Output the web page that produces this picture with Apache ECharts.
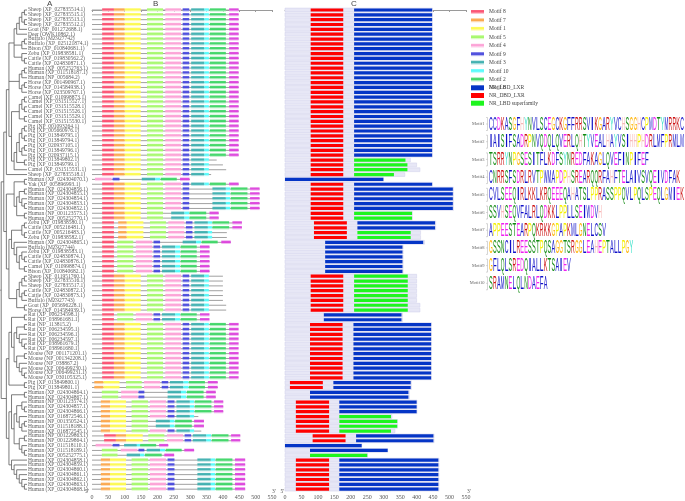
<!DOCTYPE html>
<html>
<head>
<meta charset="utf-8">
<script src="https://cdn.jsdelivr.net/npm/echarts@6/dist/echarts.min.js"></script>
<style>
html,body{margin:0;padding:0;background:#fff;}
#chart{width:685px;height:501px;}
</style>
</head>
<body>
<div id="chart"></div>
<script>
// ---------------- DATA ----------------
const labels = [
'Sheep (XP_027835514.1)','Sheep (XP_027835515.1)','Sheep (XP_027835513.1)','Sheep (XP_027835512.1)','Goat (NP_001272688.1)',
'Deer (OWK10862.1)','Buffalo (MZ927742)','Buffalo (XP_025121874.1)','Bison (XP_010840681.1)','Zebu (XP_019838581.1)',
'Cattle (XP_019830562.2)','Cattle (XP_024830871.1)','Human (XP_005252763.1)','Human (XP_011518187.1)','Human (NP_005684.2)',
'Horse (XP_001490967.1)','Horse (XP_014584938.1)','Horse (XP_023509767.1)','Camel (XP_010998873.1)','Camel (XP_031515527.1)',
'Camel (XP_031515528.1)','Camel (XP_031515526.1)','Camel (XP_031515529.1)','Camel (XP_031515530.1)','Pig (NP_001093264.1)',
'Pig (XP_005660976.1)','Pig (XP_013849795.1)','Pig (XP_013849794.1)','Pig (XP_020937105.1)','Pig (XP_013849796.1)',
'Pig (XP_020937115.1)','Pig (XP_013849802.1)','Pig (XP_013849799.1)','Camel (XP_031515531.1)','Sheep (XP_027835518.1)',
'Human (XP_024304070.1)','Yak (XP_005896993.1)','Human (XP_024304856.1)','Human (XP_024304855.1)','Human (XP_024304854.1)',
'Human (XP_024304853.1)','Human (XP_024304852.1)','Human (NP_001123573.1)','Human (XP_005252770.1)','Zebu (XP_019838580.1)',
'Cattle (XP_005216481.1)','Cattle (XP_005216483.1)','Zebu (XP_019838582.1)','Human (XP_024304865.1)','Buffalo (MZ927744)',
'Zebu (XP_019838583.1)','Cattle (XP_024830874.1)','Cattle (XP_024830876.1)','Camel (XP_010998874.1)','Bison (XP_010840682.1)',
'Sheep (XP_011951760.1)','Sheep (XP_027835516.1)','Sheep (XP_027835517.1)','Cattle (XP_024830872.1)','Cattle (XP_024830873.1)',
'Buffalo (MZ927743)','Goat (XP_005696228.1)','Horse (XP_014584939.1)','Rat (XP_006234598.1)','Rat (XP_038961681.1)',
'Rat (NP_113815.2)','Rat (XP_006234595.1)','Rat (XP_006234596.1)','Rat (XP_006234597.1)','Rat (XP_038961679.1)',
'Rat (XP_038961680.1)','Mouse (NP_001171201.1)','Mouse (NP_001342208.1)','Mouse (NP_038867.2)','Mouse (XP_006499230.1)',
'Mouse (XP_006499231.1)','Mouse (XP_030105325.1)','Pig (XP_013849800.1)','Pig (XP_013849801.1)','Human (XP_024304864.1)',
'Human (XP_024304867.1)','Human (NP_001123574.1)','Human (XP_024304857.1)','Human (XP_024304866.1)','Human (XP_016872546.1)',
'Human (NP_001350524.1)','Human (XP_011518188.1)','Human (XP_016872545.1)','Human (NP_001229863.1)','Human (NP_001229864.1)',
'Human (XP_011518110.1)','Human (XP_011518189.1)','Human (XP_005252775.1)','Human (XP_024304858.1)','Human (XP_024304859.1)',
'Human (XP_024304860.1)','Human (XP_024304861.1)','Human (XP_024304862.1)','Human (XP_024304863.1)','Human (XP_024304868.1)'
];

// protein length (aa) per row
const seqLength = [
448,448,448,448,448,448,448,448,448,448,
448,448,448,448,448,448,448,448,448,448,
448,448,448,448,448,448,448,448,448,448,
448,381,400,410,364,299,448,512,512,512,
512,512,387,387,458,458,412,412,424,359,
359,359,359,359,359,400,400,400,400,400,
400,410,410,357,357,445,445,445,445,445,
445,445,445,445,445,445,445,384,384,378,
378,401,401,401,325,342,342,334,453,453,
233,312,251,468,468,468,468,468,468,468
];

// motif legend order and colours
const motifNames = ['Motif 8','Motif 7','Motif 1','Motif 5','Motif 4','Motif 9','Motif 3','Motif 10','Motif 2','Motif 6'];
const motifIds   = [8,7,1,5,4,9,3,10,2,6];
const motifColors = ['#fb5272','#fba84e','#fdf950','#a6f86c','#fca2d6','#4a4adc','#40b0b0','#55fbfb','#40d668','#dc45dc'];

// motif architectures: [motif id, start aa, end aa]
const archFull   = [[8,31,67],[7,67,100],[1,100,149],[5,168,217],[4,224,272],[9,277,297],[3,303,343],[10,343,357],[2,360,409],[6,419,448]];
const archTrunc  = [[8,31,67],[7,67,100],[1,100,149],[5,168,217],[4,224,272],[9,277,297],[3,303,343],[10,343,357]];
const archNterm4 = [[4,9,60],[9,63,84],[3,152,193],[10,193,208],[2,210,259],[6,269,298]];
const archInsert = [[8,31,67],[7,67,100],[1,100,149],[5,168,217],[4,224,272],[9,277,297],[3,368,409],[10,409,422],[2,424,475],[6,483,512]];
const archDel60  = [[8,31,67],[7,67,100],[1,100,149],[5,168,217],[3,242,282],[10,282,297],[2,298,349],[6,359,387]];
const archShift  = [[8,31,67],[7,80,106],[1,106,157],[5,177,226],[4,233,282],[9,287,307],[3,313,354],[10,354,367],[2,368,419],[6,429,458]];
const archShiftT = [[8,31,67],[7,80,106],[1,106,157],[5,177,226],[4,233,282],[9,287,307],[3,313,354],[10,354,367]];
const archNo71a  = [[8,31,67],[5,77,126],[4,134,184],[9,188,208],[3,277,318],[10,318,333],[2,335,384],[6,395,424]];
const archNo71b  = [[8,31,67],[5,77,126],[4,134,184],[9,188,208],[3,214,254],[10,254,269],[2,271,320],[6,330,359]];
const archPigB   = [[7,7,35],[1,35,84],[5,104,152],[4,159,208],[9,213,233],[3,238,279],[10,279,295],[2,296,345],[6,354,384]];
const archHum5   = [[5,30,80],[4,89,140],[9,142,160],[3,231,272],[10,272,288],[2,290,341],[6,349,378]];
const archHum7   = [[7,27,55],[1,55,104],[5,121,171],[4,177,226],[9,231,252],[3,258,299],[10,299,312],[2,314,365],[6,373,401]];
const archHum7T  = [[7,27,55],[1,55,104],[5,121,171],[4,177,226],[9,231,252],[3,258,299],[10,299,312]];
const archHum7D  = [[7,27,55],[1,55,104],[5,121,171],[3,195,238],[10,238,252],[2,254,305],[6,312,342]];
const archHum8   = [[8,37,73],[7,73,104],[1,104,155],[5,172,221],[4,229,278],[9,283,303],[3,308,349],[10,349,364],[2,366,417],[6,425,453]];
const archHum4   = [[4,11,60],[9,63,84],[3,98,137],[10,137,147],[2,147,196],[6,205,233]];
const archHum5b  = [[5,30,78],[4,88,139],[9,142,160],[3,167,208],[10,208,223],[2,225,274],[6,282,312]];
const archHum5c  = [[5,30,78],[3,106,147],[10,147,160],[2,162,213],[6,221,251]];
const archHum7L  = [[7,27,55],[1,55,104],[5,121,171],[4,177,226],[9,231,252],[3,322,363],[10,363,376],[2,378,429],[6,437,468]];
const motifArchs = [archFull,archTrunc,archNterm4,archInsert,archDel60,archShift,archShiftT,archNo71a,archNo71b,
                    archPigB,archHum5,archHum7,archHum7T,archHum7D,archHum8,archHum4,archHum5b,archHum5c,archHum7L];
const rowMotifArch = [
0,0,0,0,0,0,0,0,0,0,
0,0,0,0,0,0,0,0,0,0,
0,0,0,0,0,0,0,0,0,0,
0,1,1,1,1,2,0,3,3,3,
3,3,4,4,5,5,6,6,7,8,
8,8,8,8,8,1,1,1,1,1,
1,1,1,8,8,0,0,0,0,0,
0,0,0,0,0,0,0,9,9,10,
10,11,11,11,12,13,13,12,14,14,
15,16,17,18,18,18,18,18,18,18
];

// domains: [type, start, end]; type 0 NR_LBD_LXR, 1 NR_DBD_LXR, 2 NR_LBD superfamily
const domainNames  = ['NR_LBD_LXR','NR_DBD_LXR','NR_LBD superfamily'];
const domainColors = ['#0535c6','#ff0000','#1ef51e'];
const domainArchs = [
 [[1,78,177],[0,210,447]], [[1,78,177],[2,210,366]], [[1,78,177],[2,210,372]], [[1,78,177],[2,210,331]],
 [[0,0,299]], [[1,78,177],[0,210,510]], [[1,78,177],[2,210,386]], [[1,88,188],[0,220,456]],
 [[1,88,188],[2,220,382]], [[0,122,420]], [[0,122,357]], [[1,78,177],[2,210,373]],
 [[0,118,354]], [[1,76,175],[0,208,444]], [[1,15,115],[0,147,382]], [[0,76,375]],
 [[1,33,134],[0,165,400]], [[1,33,134],[2,165,322]], [[1,33,134],[2,165,341]], [[1,84,184],[0,216,451]],
 [[0,0,233]], [[0,76,312]], [[2,76,250]], [[1,33,134],[0,165,466]]
];
const rowDomainArch = [
0,0,0,0,0,0,0,0,0,0,
0,0,0,0,0,0,0,0,0,0,
0,0,0,0,0,0,0,0,0,0,
0,1,2,2,3,4,0,5,5,5,
5,5,6,6,7,7,8,8,9,10,
10,10,10,10,10,11,11,11,11,11,
11,11,11,12,12,13,13,13,13,13,
13,13,13,13,13,13,13,14,14,15,
15,16,16,16,17,18,18,17,19,19,
20,21,22,23,23,23,23,23,23,23
];

// tree topology (leaf = row index)
const cladeRum      = [[[[[0,1],[2,3]],4],5],[[6,7],8],[9,[10,11]]];
const cladeHumHorse = [[[12,13],14],[[15,16],17]];
const cladeCamelPig = [[[[18,19],[20,21]],[22,23]],[[[[[24,25],[26,27]],[[28,29],30]],[31,32]],33]];
const cladeMixA     = [[35,36],[[[37,38],[39,[40,41]]],[42,43]]];
const cladeMixB     = [[[44,45],[46,47]],[48,[49,[[50,[51,52]],[53,54]]]]];
const cladeMixC     = [[[[55,56],57],[[58,59],60]],[61,62]];
const cladeRodent   = [[63,64],[[[65,66],[67,[68,[69,70]]]],[[71,72],[73,[74,[75,76]]]]]];
const cladePigB     = [77,78];
const cladeHumB     = [[[79,80],[[[81,[82,83]],[84,[[85,86],87]]],[[88,89],[90,[91,92]]]]],[93,[94,[95,[96,[97,[98,99]]]]]]];
const treeTopology  = [[[[cladeRum,cladeHumHorse,cladeCamelPig],34],[cladeMixA,[cladeMixB,cladeMixC]]],[[cladeRodent,cladePigB],cladeHumB]];

// motif logos
const logoNames = ['Motif1','Motif2','Motif3','Motif4','Motif5','Motif6','Motif7','Motif8','Motif9','Motif10'];
const logoSeqs = [
 'CCDKASGFHYNVLSCEGCKGFFRRSVIKGARYVCHSGGHCPMDTYMRRKC',
 'IAISIFSADRPNVQDQLQVERLQHTYVEALHAYVSIHHPHDRLMFPRMLM',
 'TSRRYNPGSESITFLKDFSYNREDFAKAGLQVEFINPIFEF',
 'CNRRSFSDRLRVTPWMAPDPHSREARQQRFAHFTELAIVSVQEIVDFAK',
 'CVLSEEQIRLKKLKRQEEEQAHATSLPPRASSPPQVLPQLSPEQLGMIEK',
 'SSVHSEQVFALRLQDKKLPPLLSEIWDVH',
 'APPEESTEARPQKRKKGPAPKMLGNELCSV',
 'GSSNCILREESSTPQSAGGTSRGGLEAHEPTALLPGY',
 'GFLQLSREDQIALLKTSAIEV',
 'SRAMNELQLNDAEFA'
];
const axisMax = 550, axisStep = 50;

// ---------------- BUILD ----------------
const letterColors = {A:'#1010c8',C:'#1010c8',F:'#1010c8',I:'#1010c8',L:'#1010c8',V:'#1010c8',W:'#1010c8',M:'#1010c8',
  N:'#118a11',Q:'#118a11',S:'#118a11',T:'#118a11',D:'#f020f0',E:'#f020f0',K:'#cc1111',R:'#cc1111',
  H:'#f7b8b8',G:'#ffb300',P:'#f5f000',Y:'#33e0c8'};

function lighten(hex,t){
  const r=parseInt(hex.slice(1,3),16),g=parseInt(hex.slice(3,5),16),b=parseInt(hex.slice(5,7),16);
  return 'rgb('+Math.round(r+(255-r)*t)+','+Math.round(g+(255-g)*t)+','+Math.round(b+(255-b)*t)+')';
}
function motifFill(c){
  return new echarts.graphic.LinearGradient(0,0,0,1,[
    {offset:0,color:lighten(c,0.1)},{offset:0.55,color:c},{offset:0.7,color:lighten(c,0.5)},{offset:1,color:lighten(c,0.75)}]);
}

// tree layout
const tipX = 27;
function layoutTree(node){
  if (typeof node === 'number') return {leaf:true,y:node,h:0};
  const ch = node.map(layoutTree);
  return {leaf:false,ch:ch,y:(ch[0].y+ch[ch.length-1].y)/2,h:1+Math.max.apply(null,ch.map(c=>c.h))};
}
const root = layoutTree(treeTopology);
const stepX = (tipX-1.2)/root.h;
function setX(n){ n.x = n.leaf ? tipX : tipX - n.h*stepX; if(!n.leaf) n.ch.forEach(setX); }
setX(root);
const treeSegs = [];
function collect(n){
  if(n.leaf) return;
  n.ch.forEach(c=>{ treeSegs.push([n.x,c.y,c.x,c.y]); collect(c); });
  treeSegs.push([n.x,n.ch[0].y,n.x,n.ch[n.ch.length-1].y]);
}
collect(root);
treeSegs.push([0.3,root.y,root.x,root.y]);

// motif & domain series data
const motifData = motifIds.map(()=>[]);
const domainData = domainNames.map(()=>[]);
const backboneData = [];
for(let r=0;r<labels.length;r++){
  backboneData.push([0,seqLength[r],r]);
  motifArchs[rowMotifArch[r]].forEach(m=>{ motifData[motifIds.indexOf(m[0])].push([m[1],m[2],r]); });
  domainArchs[rowDomainArch[r]].forEach(d=>{ domainData[d[0]].push([d[1],d[2],r]); });
}
const logoData = [], logoLetters = [];
logoSeqs.forEach((s,k)=>{ for(let j=0;j<s.length;j++){ logoData.push([j+1,k]); logoLetters.push(s[j]); } });

const mctx = document.createElement('canvas').getContext('2d');
mctx.font = '10px "Liberation Sans"';
const letterW = {};
function lw(ch){ if(!(ch in letterW)) letterW[ch]=mctx.measureText(ch).width; return letterW[ch]; }

function barRender(h, fillFn){
  return function(params, api){
    const a = api.coord([api.value(0), api.value(2)]);
    const b = api.coord([api.value(1), api.value(2)]);
    const f = fillFn();
    return {type:'rect', shape:{x:a[0], y:a[1]-h/2, width:Math.max(0,b[0]-a[0]), height:h}, style:f};
  };
}

const rowAxis = i => ({gridIndex:i, type:'value', min:-0.5, max:99.5, inverse:true, show:false});
const seqAxis = i => ({gridIndex:i, type:'value', min:0, max:axisMax, interval:axisStep,
  axisLine:{show:true, lineStyle:{color:'#9a9a9a', width:1}},
  axisTick:{show:true, length:2, lineStyle:{color:'#9a9a9a'}},
  axisLabel:{fontSize:6, color:'#555', fontFamily:'Liberation Serif', margin:3},
  splitLine:{show:false}});

const gridTop = 7.58, gridH = 484;
const series = [];
series.push({type:'custom', name:'tree', xAxisIndex:0, yAxisIndex:0, silent:true, data:treeSegs,
  encode:{x:[0,2], y:[1,3]},
  renderItem:(p,api)=>{
    const a=api.coord([api.value(0),api.value(1)]), b=api.coord([api.value(2),api.value(3)]);
    return {type:'line', shape:{x1:a[0],y1:a[1],x2:b[0],y2:b[1]}, style:{stroke:'#5a5a5a', lineWidth:0.8}};
  }});
series.push({type:'scatter', name:'labels', xAxisIndex:0, yAxisIndex:0, silent:true, symbolSize:0,
  data: labels.map((l,i)=>({name:l, value:[tipX,i]})),
  label:{show:true, position:'right', distance:1, formatter:'{b}', fontFamily:'Liberation Serif', fontSize:5.5, color:'#333'}});
series.push({type:'custom', name:'backbone', xAxisIndex:1, yAxisIndex:1, silent:true, data:backboneData,
  encode:{x:[0,1], y:2},
  renderItem:(p,api)=>{
    const a=api.coord([api.value(0),api.value(2)]), b=api.coord([api.value(1),api.value(2)]);
    return {type:'line', shape:{x1:a[0],y1:a[1],x2:b[0],y2:b[1]}, style:{stroke:'#a0a0a0', lineWidth:1}};
  }});
motifNames.forEach((nm,k)=>{
  const fill = motifFill(motifColors[k]);
  series.push({type:'custom', name:nm, xAxisIndex:1, yAxisIndex:1, silent:true, data:motifData[k],
    encode:{x:[0,1], y:2}, itemStyle:{color:fill},
    renderItem: barRender(3.4, ()=>({fill:fill}))});
});
series.push({type:'custom', name:'domainBg', xAxisIndex:2, yAxisIndex:2, silent:true, data:backboneData,
  encode:{x:[0,1], y:2},
  renderItem: barRender(3.8, ()=>({fill:'#e7e7f6', stroke:'#d3d3ec', lineWidth:0.6}))});
domainNames.forEach((nm,k)=>{
  series.push({type:'custom', name:nm, xAxisIndex:2, yAxisIndex:2, silent:true, data:domainData[k],
    encode:{x:[0,1], y:2}, itemStyle:{color:domainColors[k]},
    renderItem: barRender(3.2, ()=>({fill:domainColors[k]}))});
});
series.push({type:'custom', name:'logo', xAxisIndex:3, yAxisIndex:3, silent:true, data:logoData,
  encode:{x:0, y:1},
  renderItem:(p,api)=>{
    const c = api.coord([api.value(0),api.value(1)]);
    const ch = logoLetters[p.dataIndex];
    return {type:'text', x:c[0], y:c[1]+0.5, scaleX:Math.min(3.7/lw(ch),1.3), scaleY:1.85,
      style:{text:ch, x:0, y:0, fill:letterColors[ch]||'#000', font:'10px "Liberation Sans"', align:'center', verticalAlign:'middle'}};
  }});
series.push({type:'custom', name:'logoLabel', xAxisIndex:3, yAxisIndex:3, silent:true,
  data: logoNames.map((n,k)=>[0.5,k]), encode:{x:0,y:1},
  renderItem:(p,api)=>{
    const c = api.coord([api.value(0),api.value(1)]);
    const ax = c[0]-1.5;
    return {type:'group', children:[
      {type:'text', style:{text:logoNames[p.dataIndex], x:ax-3, y:c[1], fill:'#666', font:'4.5px "Liberation Serif"', align:'right', verticalAlign:'middle'}},
      {type:'line', shape:{x1:ax,y1:c[1]-6.5,x2:ax,y2:c[1]+6.5}, style:{stroke:'#aaa', lineWidth:0.5}},
      {type:'line', shape:{x1:ax-1.5,y1:c[1],x2:ax,y2:c[1]}, style:{stroke:'#aaa', lineWidth:0.5}},
      {type:'line', shape:{x1:ax-1.5,y1:c[1]+6.5,x2:ax,y2:c[1]+6.5}, style:{stroke:'#aaa', lineWidth:0.5}},
      {type:'line', shape:{x1:ax-1.5,y1:c[1]-6.5,x2:ax,y2:c[1]-6.5}, style:{stroke:'#aaa', lineWidth:0.5}}
    ]};
  }});

const chart = echarts.init(document.getElementById('chart'), null, {renderer:'canvas'});
const txt = (t,x,y,size,color,family)=>({type:'text', left:x, top:y, style:{text:t, fill:color, font:size+'px '+family}});
chart.setOption({
  animation:false,
  backgroundColor:'#ffffff',
  grid:[
    {left:0, top:gridTop, width:90, height:gridH, outerBoundsMode:'none'},
    {left:92, top:gridTop, width:180, height:gridH, outerBoundsMode:'none'},
    {left:285, top:gridTop, width:181, height:gridH, outerBoundsMode:'none'},
    {left:489, top:115.15, width:195, height:177, outerBoundsMode:'none'}
  ],
  xAxis:[
    {gridIndex:0, type:'value', min:0, max:90, show:false},
    seqAxis(1), seqAxis(2),
    {gridIndex:3, type:'value', min:0.5, max:50.5, show:false}
  ],
  yAxis:[rowAxis(0), rowAxis(1), rowAxis(2),
    {gridIndex:3, type:'value', min:-0.5, max:9.5, inverse:true, show:false}],
  legend:[
    {data:motifNames, orient:'vertical', left:471, top:9, padding:0, icon:'rect', itemWidth:13, itemHeight:4, itemGap:2.45,
     selectedMode:false, textStyle:{fontFamily:'Liberation Serif', fontSize:5.5, color:'#444', lineHeight:4}},
    {data:domainNames, orient:'vertical', left:471, top:84.8, padding:0, icon:'rect', itemWidth:13, itemHeight:5, itemGap:1.7,
     selectedMode:false, textStyle:{fontFamily:'Liberation Serif', fontSize:5.5, color:'#444', lineHeight:5}}
  ],
  graphic:[
    txt('A',47,0,8,'#444','"Liberation Sans"'),
    txt('B',153,0,8,'#444','"Liberation Sans"'),
    txt('C',351,0,8,'#444','"Liberation Sans"'),
    txt("5'",85,489,5.5,'#555','"Liberation Serif"'),
    txt("3'",272,489,5.5,'#555','"Liberation Serif"'),
    txt("5'",280.5,489,5.5,'#555','"Liberation Serif"'),
    txt("3'",467,489,5.5,'#555','"Liberation Serif"')
  ],
  series:series
});
</script>
</body>
</html>
